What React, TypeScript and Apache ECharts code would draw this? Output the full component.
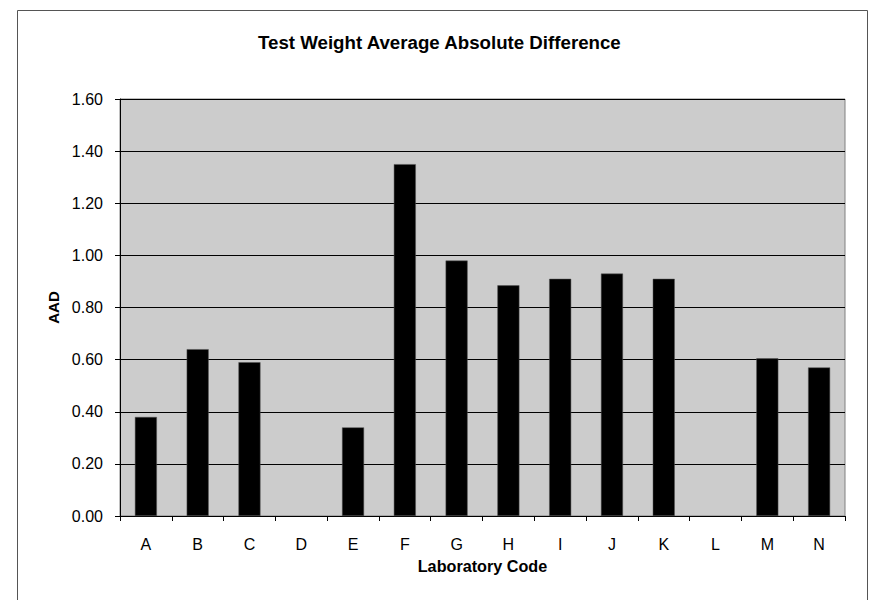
import React, { useEffect, useRef } from "react";
import * as echarts from "echarts";

const categories = ["A", "B", "C", "D", "E", "F", "G", "H", "I", "J", "K", "L", "M", "N"];
const aadValues: (number | null)[] = [0.38, 0.64, 0.59, null, 0.34, 1.35, 0.98, 0.885, 0.91, 0.93, 0.91, null, 0.605, 0.57];
const yTicks = { min: 0, max: 1.6, interval: 0.2 };
const titleText = "Test Weight Average Absolute Difference";
const xName = "Laboratory Code";
const yName = "AAD";

const FONT = "'Liberation Sans', Arial, Helvetica, sans-serif";

export default function App() {
  const ref = useRef<HTMLDivElement>(null);
  useEffect(() => {
    if (!ref.current) return;
    const chart = echarts.init(ref.current, null, { renderer: "svg" });
    chart.setOption({
      animation: false,
      backgroundColor: "#ffffff",
      title: {
        text: titleText,
        left: 258,
        top: 33,
        padding: 0,
        textStyle: { fontFamily: FONT, fontSize: 18.7, fontWeight: "bold", color: "#000" },
      },
      graphic: [
        {
          type: "rect",
          shape: { x: 17.5, y: 10.5, width: 850, height: 620 },
          style: { fill: "none", stroke: "#555555", lineWidth: 1 },
          silent: true,
        },
      ],
      grid: {
        left: 120,
        right: 29,
        top: 99,
        bottom: 84,
        show: true,
        backgroundColor: "#cccccc",
        borderColor: "#808080",
        borderWidth: 1,
      },
      xAxis: {
        type: "category",
        data: categories,
        boundaryGap: true,
        name: xName,
        nameLocation: "middle",
        nameGap: 42,
        nameTextStyle: { fontFamily: FONT, fontSize: 16.2, fontWeight: "bold", color: "#000" },
        axisLine: { show: true, lineStyle: { color: "#000", width: 1 } },
        axisTick: { show: true, length: 5, alignWithLabel: false, lineStyle: { color: "#000" } },
        axisLabel: { fontFamily: FONT, fontSize: 16, color: "#000", margin: 20, interval: 0 },
        splitLine: { show: false },
      },
      yAxis: {
        type: "value",
        min: yTicks.min,
        max: yTicks.max,
        interval: yTicks.interval,
        name: yName,
        nameLocation: "middle",
        nameGap: 55,
        nameRotate: 90,
        nameTextStyle: { fontFamily: FONT, fontSize: 15, fontWeight: "bold", color: "#000" },
        axisLine: { show: true, lineStyle: { color: "#000", width: 1 } },
        axisTick: { show: true, length: 5, lineStyle: { color: "#000" } },
        axisLabel: {
          fontFamily: FONT,
          fontSize: 16,
          color: "#000",
          margin: 17,
          formatter: (v: number) => v.toFixed(2),
        },
        splitLine: { show: true, lineStyle: { color: "#000", width: 1 } },
      },
      series: [
        {
          type: "bar",
          data: aadValues,
          barWidth: 22,
          itemStyle: { color: "#000000", borderColor: "#555", borderWidth: 0.5 },
        },
      ],
    });
    return () => chart.dispose();
  }, []);
  return (
    <div
      ref={ref}
      style={{ position: "absolute", left: 0, top: 0, width: 874, height: 600 }}
    />
  );
}
